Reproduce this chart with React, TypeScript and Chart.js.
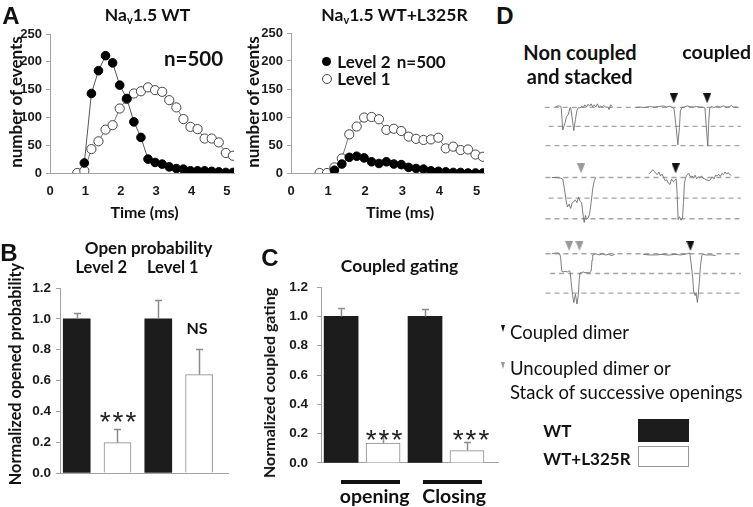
import React, { useEffect, useRef } from 'react';
import { Chart, registerables } from 'chart.js';
Chart.register(...registerables);

// ---------- DATA ----------
const timesMs = [0.77, 0.97, 1.17, 1.37, 1.57, 1.77, 1.97, 2.17, 2.37, 2.57, 2.77, 2.97, 3.17, 3.37, 3.57, 3.77, 3.97, 4.17, 4.37, 4.57, 4.77, 4.97, 5.17];
const wtLevel2 = [null, 18, 143, 184, 211, 198, 158, 134, 92, 64, 25, 19, 16, 11, 8, 7, 4, 4, 4, 3, 2, 1, 1];
const wtLevel1 = [0, 4, 43, 57, 78, 86, 116, 133, 143, 147, 154, 149, 146, 131, 118, 97, 83, 79, 62, 62, 55, 36, 31];
const mutLevel2 = [null, null, 5, 16, 28, 30, 27, 20, 17, 20, 16, 15, 10, 8, 7, 4, 3, 2, 1, 1, 0, 0, 0];
const mutLevel1 = [0, 0, 10, 26, 69, 83, 99, 100, 96, 77, 79, 75, 65, 61, 59, 60, 63, 44, 47, 41, 42, 33, 29];

const barGroups = ['WT', 'WT+L325R', 'WT', 'WT+L325R'];
const openProbLabels = ['Level 2', 'Level 2', 'Level 1', 'Level 1'];
const openProbValues = [1.0, 0.197, 1.0, 0.638];
const openProbSem = [0.04, 0.088, 0.12, 0.168];
const coupledLabels = ['opening', 'opening', 'Closing', 'Closing'];
const coupledValues = [1.0, 0.135, 1.0, 0.084];
const coupledSem = [0.06, 0.06, 0.053, 0.056];

// single-channel sweeps: [time (a.u.), current level (0 closed, -1 one open, -2 two open)]
const sweep1Left: [number, number][] = [[20.7,0.03],[23.3,0.07],[26,0.06],[26.7,-0.04],[28.3,-1.19],[30.7,-0.81],[32.3,-0.49],[34.3,-0.37],[35.7,-0.04],[36.7,-0.01],[38.3,-0.56],[40,-1.22],[41.7,-0.63],[43.3,-0.16],[45,-0.01],[46.7,-0.04],[48.3,0.06],[50,-0.01],[51.7,0.13],[53.3,0.01],[55,0.16],[56.7,0.06],[58.3,0.18],[60,0.01],[61.7,0.13],[63.3,0.01],[65,0.18],[66.7,-0.01],[68.3,0.07],[70,0.01],[71.7,0.1],[73.3,0.01],[76,0.01],[77.3,-0.12],[79,0.13],[80.7,0.03]];
const sweep1Right: [number, number][] = [[106,-0.01],[110,0.01],[115,-0.01],[120,0.04],[125,0.01],[130,0.04],[135,0.07],[138.3,0.01],[141.7,0.06],[144,-0.01],[146,-0.07],[148.3,-1.07],[150,-1.96],[151.7,-1.07],[152.7,-0.19],[154.3,-0.01],[156.7,0.01],[160,0.07],[163.3,0.03],[166.7,0.01],[170,0.04],[173.3,0.01],[176.7,0.01],[178.7,-0.04],[180,-0.93],[181.7,-2.03],[182.7,-0.78],[183.7,-0.04],[185.3,0.04],[188.3,-0.01],[191.7,0.06],[195,0],[198.3,0.07],[201.7,0.01],[205,0.04],[206.7,0.1],[208.3,0.01],[213.3,0.01]];
const sweep2Left: [number, number][] = [[16.7,0],[21.7,0],[26,-0.03],[28.3,-0.08],[30,-0.54],[31.7,-1.09],[33.3,-1.43],[35,-1.29],[36.7,-1.5],[38.3,-1.22],[40,-1.16],[41.7,-1.09],[43.3,-1.22],[45,-0.95],[46.7,-1.16],[48.3,-1.22],[50,-1.9],[51,-2.18],[52.3,-1.84],[53.3,-2.04],[55,-1.97],[56.7,-1.77],[58.3,-1.22],[60,-0.54],[61.7,-0.14],[63.3,0]];
const sweep2Right: [number, number][] = [[119.3,0.16],[121.7,0.27],[123.3,0.38],[125,0.3],[126.7,0.2],[128.3,0.14],[130,0.27],[131.7,0.07],[133.3,0.16],[135,0],[136.7,-0.16],[138.3,-0.11],[140,-0.27],[141.7,-0.34],[143.3,-0.07],[145,-0.2],[146.7,-0.14],[148.3,-0.07],[149.3,-0.82],[150.3,-2.04],[151.7,-1.9],[153.3,-2.07],[155,-1.97],[156,-1.22],[157,-0.27],[158.3,0],[160,0.14],[161.7,0.2],[163.3,0.03],[165,0.07],[166.7,0],[168.3,0.11],[170,-0.07],[171.7,0.03],[173.3,0],[175,0.07],[176.7,-0.03],[180,-0.11],[183.3,-0.16],[185,-0.07],[186.7,0.03],[188.3,-0.07],[190,0.11],[191.7,0.07],[193.3,0.16],[195,0.05],[196.7,0.2],[198.3,0.14],[200,0.27],[201.7,0.16],[203.3,0.24],[205,0.14],[206.7,0.11]];
const sweep3Left: [number, number][] = [[16.7,0],[20,0.03],[23.3,0.04],[25,0],[26,-0.17],[27.3,-0.89],[28.7,-0.92],[30.7,-0.89],[33.3,-0.92],[35,-0.86],[36,-0.89],[37.3,-1.47],[38.7,-2.12],[40,-2.47],[41.7,-2.04],[43.3,-2.55],[44.7,-2.12],[45.7,-1.32],[46.7,-0.96],[48.3,-0.96],[50,-0.92],[51.7,-0.96],[56.7,-0.96],[58.3,-0.89],[59.3,-0.32],[60,-0.06],[61.7,-0.03],[63.3,0],[66.7,-0.06],[70,0],[73.3,-0.06],[76.7,-0.03],[80,-0.09],[83.3,-0.03]];
const sweep3Right: [number, number][] = [[113.3,-0.03],[120,-0.06],[126.7,-0.06],[133.3,-0.03],[140,-0.07],[146.7,-0.03],[153.3,-0.06],[160,0],[162.7,0.04],[164,-0.46],[165.7,-1.18],[166.7,-1.9],[168.3,-2.12],[169.3,-1.97],[170.7,-2.47],[171.7,-2.04],[172.7,-1.47],[174,-0.6],[175.3,-0.1],[176.7,-0.03],[180,-0.06],[185,-0.06],[190,-0.09]];
const sweepLevels = [0, -1, -2];
const sweep1Coupled = [145.7, 181];
const sweep1Uncoupled: number[] = [];
const sweep2Coupled = [147.7];
const sweep2Uncoupled = [47.7];
const sweep3Coupled = [163.3];
const sweep3Uncoupled = [35, 46];

// ---------- STYLE ----------
const LATO = 'Lato, "Open Sans", sans-serif';
const ARIAL = '"Liberation Sans", Arial, sans-serif';
const AXIS = '#a3a3a3';
const INK = '#1a1a1a';
const BLACKBAR = '#1c1c1c';

const errorBarPlugin = {
  id: 'errorBars',
  afterDatasetsDraw(chart: any, _a: any, opts: any) {
    if (!opts || !opts.values) return;
    const { ctx } = chart;
    const xs = chart.scales.x;
    const ys = chart.scales.y;
    ctx.save();
    ctx.strokeStyle = opts.color;
    ctx.lineWidth = opts.width;
    opts.values.forEach((v: number, i: number) => {
      const x = Math.round(xs.getPixelForValue(i)) + 0.5;
      const y0 = ys.getPixelForValue(v);
      const y1 = Math.round(ys.getPixelForValue(v + opts.sem[i])) + 0.5;
      ctx.beginPath();
      ctx.moveTo(x, y0);
      ctx.lineTo(x, y1);
      ctx.moveTo(x - opts.cap / 2, y1);
      ctx.lineTo(x + opts.cap / 2, y1);
      ctx.stroke();
    });
    ctx.restore();
  },
};

function histConfig(level2: (number | null)[], level1: number[], yWidth: number, padTop: number, padRight: number) {
  return {
    type: 'scatter',
    data: {
      datasets: [
        {
          label: 'Level 2',
          data: timesMs.map((t, i) => ({ x: t, y: level2[i] })),
          showLine: true,
          borderColor: '#555',
          borderWidth: 1,
          pointRadius: 4.3,
          pointBackgroundColor: '#000',
          pointBorderColor: '#000',
          pointBorderWidth: 1,
        },
        {
          label: 'Level 1',
          data: timesMs.map((t, i) => ({ x: t, y: level1[i] })),
          showLine: true,
          borderColor: '#777',
          borderWidth: 1,
          pointRadius: 4.6,
          pointBackgroundColor: '#fff',
          pointBorderColor: '#444',
          pointBorderWidth: 1,
        },
      ],
    },
    options: {
      animation: false,
      responsive: false,
      events: [],
      layout: { padding: { left: 0, right: padRight, top: padTop, bottom: 0 } },
      plugins: { legend: { display: false }, tooltip: { enabled: false } },
      scales: {
        x: {
          type: 'linear',
          min: 0,
          max: 5.2,
          afterFit: (s: any) => { s.height = 37; },
          ticks: { stepSize: 1, includeBounds: false, padding: 11, color: INK, font: { family: ARIAL, size: 13, weight: 'bold' } },
          grid: { display: true, drawOnChartArea: false, drawTicks: false, color: AXIS },
          border: { color: AXIS, width: 1 },
        },
        y: {
          min: 0,
          max: 250,
          afterFit: (s: any) => { s.width = yWidth; },
          ticks: { stepSize: 50, padding: 4, color: INK, font: { family: ARIAL, size: 13, weight: 'bold' } },
          grid: { display: true, drawOnChartArea: false, tickLength: 4, color: AXIS },
          border: { color: AXIS, width: 1 },
        },
      },
    },
  };
}

function barConfig(labels: string[], values: number[], sem: number[], xmin: number, xmax: number, thickness: number, yWidth: number, padTop: number, padRight: number, xHeight: number, tickPad: number) {
  return {
    type: 'bar',
    data: {
      datasets: [
        {
          label: labels.join(','),
          data: values.map((v, i) => ({ x: i, y: v })),
          backgroundColor: barGroups.map((g) => (g === 'WT' ? BLACKBAR : '#ffffff')),
          borderColor: barGroups.map((g) => (g === 'WT' ? BLACKBAR : '#8a8a8a')),
          borderWidth: barGroups.map((g) => (g === 'WT' ? 0 : 1)),
          barThickness: thickness,
        },
      ],
    },
    plugins: [errorBarPlugin],
    options: {
      animation: false,
      responsive: false,
      events: [],
      layout: { padding: { left: 0, right: padRight, top: padTop, bottom: 0 } },
      plugins: {
        legend: { display: false },
        tooltip: { enabled: false },
        errorBars: { values, sem, color: '#8c8c8c', width: 1.5, cap: 7 },
      },
      scales: {
        x: {
          type: 'linear',
          min: xmin,
          max: xmax,
          offset: false,
          afterFit: (s: any) => { s.height = xHeight; },
          ticks: { display: false },
          grid: { display: false },
          border: { display: true, color: AXIS, width: 1 },
        },
        y: {
          min: 0,
          max: 1.2,
          afterFit: (s: any) => { s.width = yWidth; },
          ticks: { stepSize: 0.2, padding: tickPad, color: INK, callback: (v: number) => v.toFixed(1), font: { family: ARIAL, size: 13.5, weight: 'bold' } },
          grid: { display: true, drawOnChartArea: false, tickLength: 4, color: AXIS },
          border: { color: AXIS, width: 1 },
        },
      },
    },
  };
}

function triangleImage(color: string, w: number, h: number) {
  const c = document.createElement('canvas');
  c.width = w;
  c.height = h;
  const g = c.getContext('2d')!;
  g.fillStyle = color;
  g.beginPath();
  g.moveTo(0, 0);
  g.lineTo(w, 0);
  g.lineTo(w / 2, h);
  g.closePath();
  g.fill();
  return c;
}

function sweepConfig(left: [number, number][], right: [number, number][], dashStarts: number[], coupled: number[], uncoupled: number[], markerLevel: number, yMin: number) {
  const dashed = sweepLevels.map((lv, i) => ({
    data: [{ x: dashStarts[i], y: lv }, { x: 216.7, y: lv }],
    showLine: true,
    borderColor: '#a5a5a5',
    borderWidth: 1.3,
    borderDash: [5, 4],
    pointRadius: 0,
  }));
  const trace = (pts: [number, number][]) => ({
    data: pts.map(([x, y]) => ({ x, y })),
    showLine: true,
    borderColor: '#6e6e6e',
    borderWidth: 0.9,
    pointRadius: 0,
  });
  const blackTri = triangleImage('#111', 8, 10);
  const grayTri = triangleImage('#9a9a9a', 8, 10);
  return {
    type: 'scatter',
    data: {
      datasets: [
        { data: coupled.map((x) => ({ x, y: markerLevel })), pointStyle: blackTri, pointRadius: 5, showLine: false },
        { data: uncoupled.map((x) => ({ x, y: markerLevel })), pointStyle: grayTri, pointRadius: 5, showLine: false },
        trace(left),
        trace(right),
        ...dashed,
      ],
    },
    options: {
      animation: false,
      responsive: false,
      events: [],
      layout: { padding: 0 },
      plugins: { legend: { display: false }, tooltip: { enabled: false } },
      scales: {
        x: { type: 'linear', min: 0, max: 220, display: false },
        y: { min: yMin, max: 0.8, display: false },
      },
    },
  };
}

// ---------- HELPERS ----------
const T = ({ x, y, s, children, w = 700, f = LATO, c = '#111', rot = 0, left = false, ls = 0 }: any) => (
  <div
    style={{
      position: 'absolute',
      left: x,
      top: y,
      transform: `translate(${left ? '0' : '-50%'}, -50%) rotate(${rot}deg)`,
      fontSize: s,
      fontWeight: w,
      fontFamily: f,
      color: c,
      whiteSpace: 'nowrap',
      lineHeight: 1,
      letterSpacing: ls,
    }}
  >
    {children}
  </div>
);

const Cv = ({ r, x, y, w, h }: any) => (
  <canvas ref={r} width={w} height={h} style={{ position: 'absolute', left: x, top: y, width: w, height: h }} />
);

export default function App() {
  const aL = useRef<HTMLCanvasElement>(null);
  const aR = useRef<HTMLCanvasElement>(null);
  const bC = useRef<HTMLCanvasElement>(null);
  const cC = useRef<HTMLCanvasElement>(null);
  const d1 = useRef<HTMLCanvasElement>(null);
  const d2 = useRef<HTMLCanvasElement>(null);
  const d3 = useRef<HTMLCanvasElement>(null);

  useEffect(() => {
    const charts: Chart[] = [];
    const mk = (r: any, cfg: any) => { if (r.current) charts.push(new Chart(r.current, cfg)); };
    mk(aL, histConfig(wtLevel2, wtLevel1, 50, 14, 11));
    mk(aR, histConfig(mutLevel2, mutLevel1, 46, 13, 11));
    mk(bC, barConfig(openProbLabels, openProbValues, openProbSem, -0.41, 3.71, 27, 60, 12, 12, 17, 5));
    mk(cC, barConfig(coupledLabels, coupledValues, coupledSem, -0.48, 3.74, 34, 66, 6.8, 12, 8, 9));
    mk(d1, sweepConfig(sweep1Left, sweep1Right, [9.3, 13.3, 10], sweep1Coupled, sweep1Uncoupled, 0.47, -2.6));
    mk(d2, sweepConfig(sweep2Left, sweep2Right, [10, 13.3, 10], sweep2Coupled, sweep2Uncoupled, 0.44, -2.4));
    mk(d3, sweepConfig(sweep3Left, sweep3Right, [10, 15, 10], sweep3Coupled, sweep3Uncoupled, 0.4, -2.7));
    return () => charts.forEach((c) => c.destroy());
  }, []);

  const Nav = ({ t }: any) => (
    <span>Na<sub style={{ fontSize: '0.62em', verticalAlign: '-0.25em', lineHeight: 0 }}>v</sub>1.5 {t}</span>
  );
  const Stars = ({ x, y }: any) => (
    <T x={x} y={y + 6} s={28} f={ARIAL} w={400} ls={2} c="#222">***</T>
  );

  return (
    <div style={{ position: 'absolute', left: 0, top: 0, width: 753, height: 507, background: '#fff', overflow: 'hidden' }}>
      <Cv r={aL} x={0} y={20} w={245} h={190} />
      <Cv r={aR} x={245} y={20} w={250} h={190} />
      <Cv r={bC} x={0} y={275} w={240} h={215} />
      <Cv r={cC} x={255} y={270} w={255} h={210} />
      <Cv r={d1} x={530} y={86} w={220} h={77} />
      <Cv r={d2} x={530} y={155} w={220} h={78} />
      <Cv r={d3} x={530} y={232} w={220} h={81} />

      {/* panel letters */}
      <T x={11} y={16} s={24} f={ARIAL}>A</T>
      <T x={505} y={16} s={24} f={ARIAL}>D</T>
      <T x={9} y={253} s={24} f={ARIAL}>B</T>
      <T x={270} y={258} s={24} f={ARIAL}>C</T>

      {/* panel A */}
      <T x={147.5} y={15} s={17.5}><Nav t="WT" /></T>
      <T x={394.5} y={15} s={17.5}><Nav t="WT+L325R" /></T>
      <T x={193.5} y={58} s={20.5}>n=500</T>
      <T x={15} y={102} s={17} rot={-90}>number of events</T>
      <T x={252} y={102} s={17} rot={-90}>number of events</T>
      <T x={144.5} y={211.7} s={16}>Time (ms)</T>
      <T x={400} y={211.7} s={16}>Time (ms)</T>
      <div style={{ position: 'absolute', left: 322.2, top: 56.5, width: 9, height: 9, borderRadius: '50%', background: '#000' }} />
      <div style={{ position: 'absolute', left: 322, top: 73.5, width: 8, height: 8, borderRadius: '50%', border: '1px solid #444', background: '#fff' }} />
      <T x={337.3} y={61} s={17} left>Level 2</T>
      <T x={337.3} y={78.3} s={17} left>Level 1</T>
      <T x={396.7} y={61} s={17} left>n=500</T>

      {/* panel B */}
      <T x={148.7} y={246.7} s={17}>Open probability</T>
      <T x={101.3} y={267.3} s={16.5}>Level 2</T>
      <T x={172.8} y={267.3} s={16.5}>Level 1</T>
      <T x={15.3} y={374} s={16.2} rot={-90}>Normalized opened probability</T>
      <Stars x={119} y={416} />
      <T x={197} y={327.7} s={16}>NS</T>

      {/* panel C */}
      <T x={399.5} y={266} s={17.5}>Coupled gating</T>
      <T x={269} y={383} s={16} rot={-90}>Normalized coupled gating</T>
      <Stars x={385} y={433.5} />
      <Stars x={472} y={433.5} />
      <div style={{ position: 'absolute', left: 341, top: 479.5, width: 59, height: 4, background: '#111' }} />
      <div style={{ position: 'absolute', left: 423, top: 479.5, width: 59, height: 4, background: '#111' }} />
      <T x={374.7} y={496} s={19.5}>opening</T>
      <T x={454.2} y={496} s={19.5}>Closing</T>

      {/* panel D */}
      <T x={580} y={51.7} s={20}>Non coupled</T>
      <T x={579.7} y={76} s={20}>and stacked</T>
      <T x={716.7} y={51.7} s={19.5}>coupled</T>
      <div style={{ position: 'absolute', left: 501, top: 325, width: 0, height: 0, borderLeft: '2.5px solid transparent', borderRight: '2.5px solid transparent', borderTop: '7px solid #111' }} />
      <div style={{ position: 'absolute', left: 501, top: 362, width: 0, height: 0, borderLeft: '2.5px solid transparent', borderRight: '2.5px solid transparent', borderTop: '7px solid #999' }} />
      <T x={510} y={331.7} s={18.5} w={400} left>Coupled dimer</T>
      <T x={510} y={368.3} s={18.5} w={400} left>Uncoupled dimer or</T>
      <T x={510} y={391.7} s={18.5} w={400} left>Stack of successive openings</T>
      <T x={543.3} y={430} s={17} left>WT</T>
      <T x={543.3} y={458.3} s={17} left>WT+L325R</T>
      <div style={{ position: 'absolute', left: 638, top: 419, width: 51, height: 23, background: BLACKBAR }} />
      <div style={{ position: 'absolute', left: 638, top: 446, width: 49, height: 19, background: '#fff', border: '1px solid #999' }} />
    </div>
  );
}
